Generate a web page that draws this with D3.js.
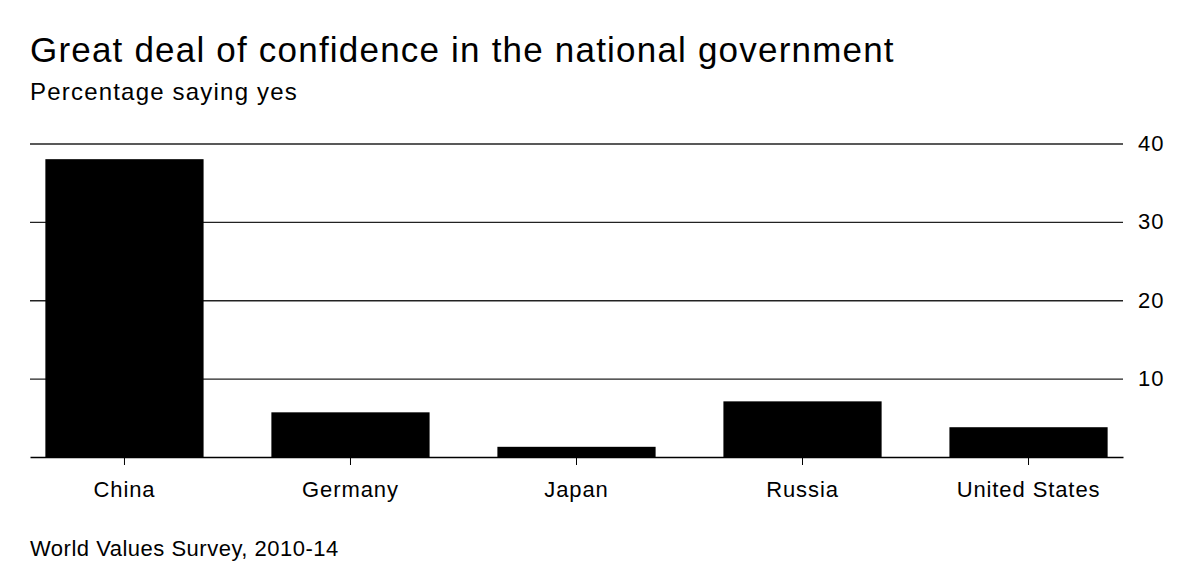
<!DOCTYPE html>
<meta charset="utf-8">
<style>
    body { margin: 0; background: #fff; }
    text { font-family: "Liberation Sans", Arial, sans-serif; fill: #000; }
    .grid .domain { display: none; }
</style>
<body>
<script src="https://d3js.org/d3.v7.min.js"></script>
<script>
    var countries = ["China", "Germany", "Japan", "Russia", "United States"];
    var values = [38.0, 5.7, 1.3, 7.1, 3.8];
    var yTicks = [10, 20, 30, 40];

    var width = 1200,
        height = 575;

    var svg = d3.select("body").append("svg")
        .attr("width", width)
        .attr("height", height);

    var margin = { top: 143.5, right: 77, bottom: 118, left: 30 };
    var innerW = width - margin.left - margin.right,
        innerH = height - margin.top - margin.bottom;

    var x = d3.scaleBand()
        .domain(countries)
        .range([0, innerW])
        .paddingInner(0.3)
        .paddingOuter(0.068);

    var y = d3.scaleLinear()
        .domain([0, 40])
        .range([innerH, 0]);

    var g = svg.append("g").attr("transform", "translate(" + margin.left + "," + margin.top + ")");

    // gridlines + right labels
    var grid = g.append("g")
        .attr("class", "grid")
        .attr("transform", "translate(" + innerW + ",0)")
        .call(d3.axisRight(y).tickValues(yTicks).tickSize(-innerW).tickPadding(15));
    grid.selectAll("line").attr("stroke", "#222").attr("stroke-width", 1.3);
    grid.selectAll("text").attr("font-size", 22).attr("letter-spacing", 1).attr("fill", "#000");

    g.selectAll("rect.bar")
        .data(values)
        .enter().append("rect")
        .attr("class", "bar")
        .attr("x", function(d, i) { return x(countries[i]); })
        .attr("y", function(d) { return y(d); })
        .attr("width", x.bandwidth())
        .attr("height", function(d) { return y(0) - y(d); })
        .attr("fill", "#000");

    var xa = g.append("g")
        .attr("transform", "translate(0," + innerH + ")")
        .call(d3.axisBottom(x).tickSize(8).tickSizeOuter(0).tickPadding(16));
    xa.select(".domain").attr("stroke", "#000").attr("stroke-width", 1.5);
    xa.selectAll("line").attr("stroke", "#000");
    xa.selectAll("text").attr("font-size", 22).attr("letter-spacing", 0.9).attr("fill", "#000");

    svg.append("text")
        .attr("x", 30).attr("y", 62)
        .attr("font-size", 35)
        .attr("letter-spacing", 1.2)
        .text("Great deal of confidence in the national government");

    svg.append("text")
        .attr("x", 30).attr("y", 100)
        .attr("font-size", 24)
        .attr("letter-spacing", 1.2)
        .text("Percentage saying yes");

    svg.append("text")
        .attr("x", 30).attr("y", 556)
        .attr("font-size", 22)
        .attr("letter-spacing", 0.5)
        .text("World Values Survey, 2010-14");
</script>
</body>
